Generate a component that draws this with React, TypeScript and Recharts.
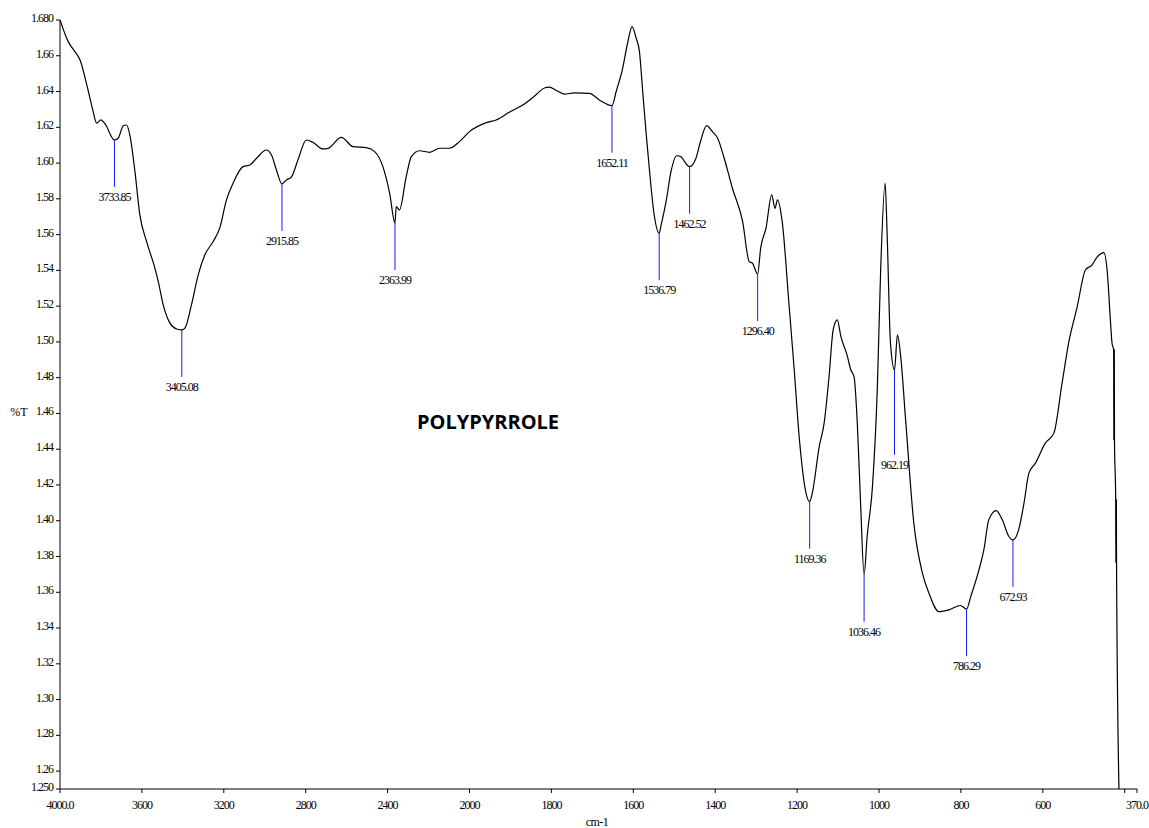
import { ComposedChart, Line, Scatter, XAxis, YAxis } from "recharts"

// IR spectrum of polypyrrole, wavenumber (cm-1) vs %T
const wavenumbers = [
  4000, 3960, 3927, 3902, 3867, 3840, 3821, 3800, 3780, 3733.85, 3716, 3691, 3675, 3659, 3634, 3610,
  3577, 3537, 3520, 3496, 3463, 3430, 3405.08, 3390, 3358, 3325, 3293, 3252, 3220, 3187, 3155, 3106,
  3073, 3040, 2992, 2967, 2943, 2915.85, 2894, 2870, 2838, 2797, 2764, 2716, 2691, 2626, 2569, 2504,
  2463, 2423, 2390, 2363.99, 2358, 2342, 2309, 2284, 2244, 2195, 2146, 2098, 2049, 2000, 1959, 1935,
  1902, 1866, 1841, 1817, 1805, 1790, 1768, 1744, 1707, 1683, 1652.11, 1642, 1626, 1614, 1603, 1593,
  1585, 1577, 1569, 1561, 1549, 1536.79, 1532, 1520, 1508, 1494, 1484, 1472, 1462.52, 1447, 1435, 1421,
  1407, 1394, 1378, 1358, 1333, 1317, 1309, 1296.4, 1289, 1276, 1262, 1254, 1248, 1236, 1220, 1207,
  1195, 1179, 1169.36, 1163, 1146, 1134, 1122, 1112, 1102, 1093, 1077, 1069, 1061, 1053, 1045, 1036.46,
  1029, 1016, 1004, 996, 985, 980, 972, 962.19, 955, 947, 935, 915, 894, 878, 854, 829,
  801, 786.29, 776, 756, 744, 732, 714, 699, 683, 672.93, 659, 646, 634, 618, 594, 573,
  553, 537, 516, 496, 480, 468, 451, 443, 435, 431, 427, 426.6, 426.2, 425.8, 425.4, 425,
  422, 421.6, 421.2, 420.8, 420.4, 420, 414,
]

const transmittance = [
  1.68, 1.6679, 1.6623, 1.6576, 1.6427, 1.6297, 1.6223, 1.6241, 1.6219, 1.6129, 1.6139, 1.6209, 1.6213, 1.6157, 1.5952, 1.571,
  1.5561, 1.5414, 1.5337, 1.5207, 1.5105, 1.5072, 1.5067, 1.5077, 1.5207, 1.5375, 1.5486, 1.5561, 1.5636, 1.5794, 1.5887, 1.598,
  1.5989, 1.6027, 1.6073, 1.6045, 1.5961, 1.5883, 1.5906, 1.5922, 1.6017, 1.6129, 1.6115, 1.6079, 1.6082, 1.6144, 1.6092, 1.6086,
  1.6064, 1.598, 1.5831, 1.5665, 1.5756, 1.5738, 1.5924, 1.6036, 1.6069, 1.606, 1.6083, 1.6083, 1.612, 1.6176, 1.6226, 1.6241,
  1.6286, 1.633, 1.6375, 1.642, 1.6425, 1.6409, 1.6386, 1.6392, 1.639, 1.6353, 1.6321, 1.6399, 1.653, 1.667, 1.6763, 1.6698,
  1.6623, 1.6399, 1.6176, 1.5971, 1.571, 1.5608, 1.5654, 1.5784, 1.5952, 1.6041, 1.6036, 1.5999, 1.598, 1.6027, 1.6129, 1.6209,
  1.6176, 1.6139, 1.6027, 1.5859, 1.5672, 1.5449, 1.544, 1.5379, 1.5524, 1.5636, 1.5822, 1.5747, 1.5794, 1.5664, 1.5216, 1.4843,
  1.4471, 1.4163, 1.4107, 1.4154, 1.4415, 1.4546, 1.4806, 1.5067, 1.5123, 1.503, 1.4918, 1.4844, 1.4806, 1.4546, 1.4098, 1.3698,
  1.3912, 1.4191, 1.475, 1.5402, 1.5887, 1.5589, 1.4993, 1.4844, 1.5039, 1.4918, 1.4564, 1.3987, 1.3707, 1.3595, 1.3492, 1.3502,
  1.3526, 1.3506, 1.3576, 1.3725, 1.3837, 1.4005, 1.4057, 1.4005, 1.3912, 1.3893, 1.3949, 1.4098, 1.4266, 1.4322, 1.4434, 1.449,
  1.4769, 1.4993, 1.5197, 1.5402, 1.543, 1.5473, 1.5499, 1.5402, 1.5123, 1.4993, 1.4955, 1.4452, 1.4955, 1.4452, 1.4955, 1.4452,
  1.4117, 1.3765, 1.4117, 1.3765, 1.4117, 1.3765, 1.25,
]

const peakWavenumbers = [
  3733.85, 3405.08, 2915.85, 2363.99, 1652.11, 1536.79, 1462.52, 1296.4, 1169.36, 1036.46, 962.19, 786.29, 672.93,
]
const peakTransmittance = [
  1.6129, 1.5067, 1.5883, 1.5665, 1.6321, 1.5608, 1.598, 1.5379, 1.4107, 1.3698, 1.4844, 1.3506, 1.3893,
]

const xTickValues = [4000, 3600, 3200, 2800, 2400, 2000, 1800, 1600, 1400, 1200, 1000, 800, 600, 400, 370]
const xTickLabels = ["4000.0", "3600", "3200", "2800", "2400", "2000", "1800", "1600", "1400", "1200", "1000", "800", "600", "", "370.0"]

const yTickValues = [
  1.25, 1.26, 1.28, 1.3, 1.32, 1.34, 1.36, 1.38, 1.4, 1.42, 1.44, 1.46, 1.48, 1.5, 1.52, 1.54, 1.56, 1.58, 1.6,
  1.62, 1.64, 1.66, 1.68,
]
const yTickLabels = [
  "1.250", "1.26", "1.28", "1.30", "1.32", "1.34", "1.36", "1.38", "1.40", "1.42", "1.44", "1.46", "1.48", "1.50",
  "1.52", "1.54", "1.56", "1.58", "1.60", "1.62", "1.64", "1.66", "1.680",
]

// the wavenumber axis is compressed 2:1 above 2000 cm-1
const toAxis = (w: number) => (w >= 2000 ? (4000 - w) / 2 : 1000 + (2000 - w))

const spectrum = wavenumbers.map((w, i) => ({ u: toAxis(w), v: transmittance[i] }))
const peaks = peakWavenumbers.map((w, i) => ({ u: toAxis(w), v: peakTransmittance[i], label: w.toFixed(2) }))
const xTicks = xTickValues.map(toAxis)

const FONT = "'Liberation Serif', 'Times New Roman', serif"

function XTick({ x, y, index }: any) {
  return (
    <text x={x} y={y + 12} textAnchor="middle" fontFamily={FONT} fontSize={12} letterSpacing={-1} fill="#000">
      {xTickLabels[index]}
    </text>
  )
}

function YTick({ x, y, index }: any) {
  return (
    <text x={x} y={y + 2} textAnchor="end" fontFamily={FONT} fontSize={12} letterSpacing={-1} fill="#000">
      {yTickLabels[index]}
    </text>
  )
}

function PeakMarker({ cx, cy, payload }: any) {
  const stem = payload.label === "962.19" ? 85 : 47
  return (
    <g>
      <line x1={cx} y1={cy} x2={cx} y2={cy + stem} stroke="#1a1aff" strokeWidth={1} />
      <text x={cx} y={cy + stem + 14} textAnchor="middle" fontFamily={FONT} fontSize={12} letterSpacing={-1} fill="#000">
        {payload.label}
      </text>
    </g>
  )
}

export default function App() {
  return (
    <div style={{ position: "absolute", left: 0, top: 0, width: 1149, height: 828, background: "#fff" }}>
      <ComposedChart width={1149} height={828} data={spectrum} margin={{ top: 20, right: 12, left: 0, bottom: 0 }}>
        <XAxis
          dataKey="u"
          type="number"
          domain={[0, 2630]}
          ticks={xTicks}
          interval={0}
          allowDataOverflow
          height={39}
          tickSize={4}
          tickMargin={4}
          tick={<XTick />}
          stroke="#000"
        />
        <YAxis
          type="number"
          domain={[1.25, 1.68]}
          ticks={yTickValues}
          interval={0}
          allowDataOverflow
          width={60}
          tickSize={4}
          tickMargin={3}
          tick={<YTick />}
          stroke="#000"
        />
        <Line
          dataKey="v"
          type="monotoneX"
          stroke="#000"
          strokeWidth={1.2}
          dot={false}
          activeDot={false}
          isAnimationActive={false}
        />
        <Scatter data={peaks} dataKey="v" shape={<PeakMarker />} isAnimationActive={false} />
      </ComposedChart>
      <div style={{ position: "absolute", left: 4, top: 405, width: 30, textAlign: "center", fontFamily: FONT, fontSize: 12, lineHeight: "14px" }}>
        %T
      </div>
      <div style={{ position: "absolute", left: 567, top: 815, width: 60, textAlign: "center", fontFamily: FONT, fontSize: 12, lineHeight: "14px", letterSpacing: -0.5 }}>
        cm-1
      </div>
      <div style={{ position: "absolute", left: 388, top: 409, width: 200, textAlign: "center", fontFamily: "'Open Sans', 'Noto Sans', sans-serif", fontWeight: 700, fontSize: 20, lineHeight: "26px" }}>
        POLYPYRROLE
      </div>
    </div>
  )
}
